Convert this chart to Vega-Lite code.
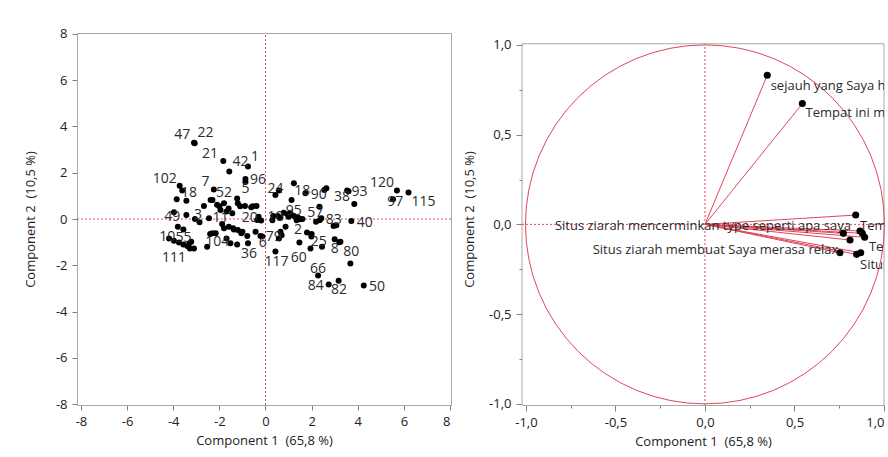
{
  "$schema": "https://vega.github.io/schema/vega-lite/v6.json",
  "background": "white",
  "padding": {"left": 23, "top": 27, "right": 0, "bottom": 0},
  "spacing": 11,
  "config": {
    "font": "Open Sans",
    "view": {"stroke": "#a8a8a8", "strokeWidth": 1},
    "axis": {
      "grid": false,
      "domainColor": "#a8a8a8",
      "tickColor": "#808080",
      "tickSize": 5,
      "labelFontSize": 13,
      "titleFontSize": 13,
      "titleFontWeight": "normal",
      "labelColor": "#222222",
      "titleColor": "#222222",
      "labelPadding": 5,
      "titlePadding": 8
    }
  },
  "datasets": {
    "scores": [
      {"x": -3.10, "y": 3.30}, {"x": -3.07, "y": 3.27}, {"x": -1.83, "y": 2.51}, {"x": -1.57, "y": 2.05},
      {"x": -0.76, "y": 2.27}, {"x": -0.87, "y": 1.73}, {"x": -0.87, "y": 1.60}, {"x": -3.72, "y": 1.44},
      {"x": -3.61, "y": 1.23}, {"x": -3.85, "y": 0.85}, {"x": -3.43, "y": 0.79}, {"x": -2.24, "y": 1.28},
      {"x": -2.67, "y": 0.56}, {"x": -2.38, "y": 0.82}, {"x": -2.30, "y": 0.82}, {"x": -1.80, "y": 0.68},
      {"x": -2.00, "y": 0.55}, {"x": -1.95, "y": 0.39}, {"x": -1.69, "y": 0.32}, {"x": -1.44, "y": 0.25},
      {"x": -1.23, "y": 0.89}, {"x": -1.20, "y": 0.68}, {"x": -0.89, "y": 0.56}, {"x": -0.62, "y": 0.51},
      {"x": -0.39, "y": 0.56}, {"x": -3.97, "y": 0.29}, {"x": -3.43, "y": 0.17}, {"x": -3.06, "y": 0.00},
      {"x": -2.86, "y": -0.14}, {"x": -2.45, "y": 0.03}, {"x": -1.88, "y": -0.22}, {"x": -0.36, "y": -0.04},
      {"x": -0.19, "y": -0.07}, {"x": 0.53, "y": 0.13}, {"x": 0.79, "y": 0.27}, {"x": 1.08, "y": 0.25},
      {"x": 1.23, "y": 0.13}, {"x": 1.41, "y": 0.07}, {"x": 1.52, "y": -0.01}, {"x": 1.13, "y": 0.82},
      {"x": 2.19, "y": -0.12}, {"x": 2.42, "y": 0.03}, {"x": 2.34, "y": 0.53}, {"x": 3.07, "y": -0.27},
      {"x": 3.72, "y": -0.09}, {"x": 0.43, "y": 1.04}, {"x": 0.58, "y": 1.23}, {"x": 1.23, "y": 1.54},
      {"x": 1.73, "y": 1.11}, {"x": 2.64, "y": 1.33}, {"x": 3.54, "y": 1.23}, {"x": 3.85, "y": 0.65},
      {"x": 5.70, "y": 1.23}, {"x": 6.20, "y": 1.15}, {"x": 5.53, "y": 0.85}, {"x": 0.87, "y": -0.33},
      {"x": 0.65, "y": -0.55}, {"x": 0.58, "y": -0.84}, {"x": 1.80, "y": -0.58}, {"x": 1.99, "y": -0.76},
      {"x": -0.14, "y": -0.76}, {"x": 0.43, "y": -1.41}, {"x": 1.47, "y": -1.02}, {"x": 1.95, "y": -1.27},
      {"x": 2.45, "y": -1.20}, {"x": 3.00, "y": -0.88}, {"x": 3.25, "y": -0.98}, {"x": 3.68, "y": -1.92},
      {"x": 2.28, "y": -2.44}, {"x": 2.74, "y": -2.83}, {"x": 3.17, "y": -2.67}, {"x": 4.26, "y": -2.87},
      {"x": -4.18, "y": -0.84}, {"x": -3.97, "y": -0.94}, {"x": -3.75, "y": -1.02}, {"x": -3.56, "y": -1.10},
      {"x": -3.39, "y": -1.17}, {"x": -3.28, "y": -1.27}, {"x": -3.10, "y": -1.27}, {"x": -3.22, "y": -0.98},
      {"x": -3.80, "y": -0.33}, {"x": -3.56, "y": -0.45}, {"x": -2.53, "y": -1.20}, {"x": -2.31, "y": -0.62},
      {"x": -2.16, "y": -0.62}, {"x": -1.69, "y": -0.84}, {"x": -1.52, "y": -1.05}, {"x": -1.23, "y": -1.10},
      {"x": -0.76, "y": -1.05}, {"x": -1.59, "y": -0.33}, {"x": -1.37, "y": -0.45}, {"x": -1.20, "y": -0.48},
      {"x": -1.05, "y": -0.62}, {"x": -0.79, "y": -0.74}, {"x": -0.43, "y": -0.55}, {"x": -0.22, "y": -0.74},
      {"x": 0.33, "y": 0.13}, {"x": 0.65, "y": 0.05}, {"x": 1.00, "y": 0.10}, {"x": 1.35, "y": -0.05},
      {"x": 0.30, "y": -0.05}, {"x": -2.10, "y": 0.62}, {"x": -1.60, "y": 0.45}, {"x": 2.55, "y": 1.25},
      {"x": 1.60, "y": 0.00}, {"x": 2.95, "y": -0.30}, {"x": 0.95, "y": 0.20}, {"x": -1.40, "y": -0.40},
      {"x": -1.00, "y": -0.55}, {"x": 0.70, "y": -0.70}, {"x": -0.55, "y": 0.55}, {"x": -3.30, "y": -1.05},
      {"x": -2.40, "y": -0.65}, {"x": -1.80, "y": -0.40}, {"x": 3.60, "y": 1.20}, {"x": -1.10, "y": 0.55},
      {"x": 2.00, "y": -0.65}, {"x": -0.30, "y": 0.10}, {"x": 3.20, "y": -1.00}, {"x": 2.35, "y": -0.05}
    ],
    "scoreLabels": [
      {"label": "47", "x": -3.61, "y": 3.61}, {"label": "22", "x": -2.60, "y": 3.71},
      {"label": "21", "x": -2.41, "y": 2.80}, {"label": "42", "x": -1.08, "y": 2.48},
      {"label": "1", "x": -0.46, "y": 2.67}, {"label": "96", "x": -0.32, "y": 1.69},
      {"label": "5", "x": -0.87, "y": 1.28}, {"label": "102", "x": -4.37, "y": 1.73},
      {"label": "18", "x": -3.32, "y": 1.11}, {"label": "7", "x": -2.60, "y": 1.59},
      {"label": "52", "x": -1.80, "y": 1.11}, {"label": "49", "x": -4.04, "y": 0.10},
      {"label": "3", "x": -2.93, "y": 0.17}, {"label": "11", "x": -1.95, "y": 0.03},
      {"label": "20", "x": -0.68, "y": 0.03}, {"label": "10", "x": 0.43, "y": 0.07},
      {"label": "95", "x": 1.23, "y": 0.36}, {"label": "57", "x": 2.16, "y": 0.25},
      {"label": "83", "x": 2.96, "y": -0.04}, {"label": "40", "x": 4.30, "y": -0.16},
      {"label": "24", "x": 0.43, "y": 1.28}, {"label": "18", "x": 1.59, "y": 1.23},
      {"label": "90", "x": 2.31, "y": 1.04}, {"label": "38", "x": 3.32, "y": 0.94},
      {"label": "93", "x": 4.08, "y": 1.15}, {"label": "120", "x": 5.05, "y": 1.54},
      {"label": "97", "x": 5.63, "y": 0.75}, {"label": "115", "x": 6.85, "y": 0.75},
      {"label": "2", "x": 1.41, "y": -0.48}, {"label": "6", "x": -0.12, "y": -1.05},
      {"label": "79", "x": 0.36, "y": -0.79}, {"label": "117", "x": 0.48, "y": -1.88},
      {"label": "60", "x": 1.44, "y": -1.70}, {"label": "25", "x": 2.31, "y": -0.98},
      {"label": "8", "x": 3.00, "y": -1.31}, {"label": "80", "x": 3.72, "y": -1.44},
      {"label": "66", "x": 2.28, "y": -2.14}, {"label": "84", "x": 2.18, "y": -2.89},
      {"label": "82", "x": 3.19, "y": -3.07}, {"label": "50", "x": 4.83, "y": -2.93},
      {"label": "10", "x": -4.26, "y": -0.76}, {"label": "55", "x": -3.56, "y": -0.84},
      {"label": "111", "x": -3.97, "y": -1.70}, {"label": "104", "x": -2.09, "y": -0.98},
      {"label": "36", "x": -0.72, "y": -1.51}
    ],
    "loadings": [
      {"var": "sejauh yang Saya", "x": 0.348, "y": 0.831},
      {"var": "Tempat ini", "x": 0.544, "y": 0.673},
      {"var": "V3", "x": 0.842, "y": 0.052},
      {"var": "Situs ziarah mencerminkan type seperti apa saya", "x": 0.773, "y": -0.050},
      {"var": "V5", "x": 0.866, "y": -0.037},
      {"var": "V6", "x": 0.879, "y": -0.050},
      {"var": "V7", "x": 0.892, "y": -0.072},
      {"var": "V8", "x": 0.810, "y": -0.087},
      {"var": "Situs ziarah membuat Saya merasa relax", "x": 0.754, "y": -0.158},
      {"var": "V10", "x": 0.847, "y": -0.167},
      {"var": "V11", "x": 0.870, "y": -0.158}
    ],
    "loadLabelsLeft": [
      {"text": "sejauh yang Saya harapkan", "x": 0.367, "y": 0.771},
      {"text": "Tempat ini menarik", "x": 0.562, "y": 0.619},
      {"text": "Tempat ziarah", "x": 0.866, "y": -0.009},
      {"text": "Tempat ziarah", "x": 0.916, "y": -0.125},
      {"text": "Situs ziarah", "x": 0.866, "y": -0.227}
    ],
    "loadLabelsRight": [
      {"text": "Situs ziarah mencerminkan type seperti apa saya", "x": 0.815, "y": -0.007},
      {"text": "Situs ziarah membuat Saya merasa relax", "x": 0.745, "y": -0.143}
    ],
    "frameV": [{"x": -1.022}, {"x": 1.0}]
  },
  "hconcat": [
    {
      "width": 374,
      "height": 372,
      "layer": [
        {
          "data": {"values": [{}]},
          "mark": {"type": "rule", "color": "#e8485a", "strokeDash": [2, 2], "strokeWidth": 1},
          "encoding": {"x": {"datum": 0, "type": "quantitative"}, "y": {"datum": -8.04}, "y2": {"datum": 8.04}}
        },
        {
          "data": {"values": [{}]},
          "mark": {"type": "rule", "color": "#e8485a", "strokeDash": [2, 2], "strokeWidth": 1},
          "encoding": {"y": {"datum": 0, "type": "quantitative"}, "x": {"datum": -8.173}, "x2": {"datum": 8.043}}
        },
        {
          "data": {"name": "scores"},
          "mark": {"type": "point", "filled": true, "color": "#000000", "size": 36, "opacity": 1},
          "encoding": {
            "x": {"field": "x", "type": "quantitative"},
            "y": {"field": "y", "type": "quantitative"}
          }
        },
        {
          "data": {"name": "scoreLabels"},
          "mark": {"type": "text", "fontSize": 14, "color": "#2b2b2b", "align": "center", "baseline": "middle"},
          "encoding": {
            "x": {"field": "x", "type": "quantitative"},
            "y": {"field": "y", "type": "quantitative"},
            "text": {"field": "label"}
          }
        }
      ],
      "encoding": {
        "x": {
          "type": "quantitative",
          "scale": {"domain": [-8.173, 8.043], "nice": false, "zero": false},
          "axis": {
            "values": [-8, -6, -4, -2, 0, 2, 4, 6, 8],
            "title": "Component 1\u00a0 (65,8 %)",
            "titlePadding": 6,
            "labelExpr": "(datum.value < 0 ? '-' : '') + abs(datum.value)"
          }
        },
        "y": {
          "type": "quantitative",
          "scale": {"domain": [-8.04, 8.04], "nice": false, "zero": false},
          "axis": {
            "values": [-8, -6, -4, -2, 0, 2, 4, 6, 8],
            "title": "Component 2\u00a0 (10,5 %)",
            "titlePadding": 18,
            "labelExpr": "(datum.value < 0 ? '-' : '') + abs(datum.value)"
          }
        }
      }
    },
    {
      "width": 362,
      "height": 372,
      "view": {"stroke": null},
      "layer": [
        {
          "data": {"name": "frameV"},
          "mark": {"type": "rule", "color": "#a8a8a8", "strokeWidth": 1},
          "encoding": {"x": {"field": "x", "type": "quantitative"}, "y": {"datum": -1.006}, "y2": {"datum": 1.006}}
        },
        {
          "data": {"values": [{}]},
          "mark": {"type": "rule", "color": "#a8a8a8", "strokeWidth": 1},
          "encoding": {"y": {"datum": 1.006, "type": "quantitative"}}
        },
        {
          "data": {"values": [{}]},
          "mark": {"type": "point", "shape": "circle", "filled": false, "color": "#e0465a", "strokeWidth": 1, "size": 128881, "opacity": 1},
          "encoding": {"x": {"datum": 0, "type": "quantitative"}, "y": {"datum": 0, "type": "quantitative"}}
        },
        {
          "data": {"values": [{}]},
          "mark": {"type": "rule", "color": "#e8485a", "strokeDash": [2, 2], "strokeWidth": 1},
          "encoding": {"x": {"datum": 0, "type": "quantitative"}, "y": {"datum": -1.006}, "y2": {"datum": 1.006}}
        },
        {
          "data": {"values": [{}]},
          "mark": {"type": "rule", "color": "#e8485a", "strokeDash": [2, 2], "strokeWidth": 1},
          "encoding": {"y": {"datum": 0, "type": "quantitative"}}
        },
        {
          "data": {"name": "loadings"},
          "mark": {"type": "rule", "color": "#e0465a", "strokeWidth": 1},
          "encoding": {
            "x": {"field": "x", "type": "quantitative"},
            "y": {"field": "y", "type": "quantitative"},
            "x2": {"datum": 0},
            "y2": {"datum": 0}
          }
        },
        {
          "data": {"name": "loadings"},
          "mark": {"type": "point", "filled": true, "color": "#000000", "size": 50, "opacity": 1},
          "encoding": {
            "x": {"field": "x", "type": "quantitative"},
            "y": {"field": "y", "type": "quantitative"}
          }
        },
        {
          "data": {"name": "loadLabelsLeft"},
          "mark": {"type": "text", "fontSize": 13, "color": "#2b2b2b", "align": "left", "baseline": "middle", "clip": true},
          "encoding": {
            "x": {"field": "x", "type": "quantitative"},
            "y": {"field": "y", "type": "quantitative"},
            "text": {"field": "text"}
          }
        },
        {
          "data": {"name": "loadLabelsRight"},
          "mark": {"type": "text", "fontSize": 13, "color": "#2b2b2b", "align": "right", "baseline": "middle", "clip": true},
          "encoding": {
            "x": {"field": "x", "type": "quantitative"},
            "y": {"field": "y", "type": "quantitative"},
            "text": {"field": "text"}
          }
        }
      ],
      "encoding": {
        "x": {
          "type": "quantitative",
          "scale": {"domain": [-1.022, 1.0], "nice": false, "zero": false},
          "axis": {
            "values": [-1, -0.75, -0.5, -0.25, 0, 0.25, 0.5, 0.75, 1],
            "title": "Component 1\u00a0 (65,8 %)",
            "titlePadding": 6,
            "tickSize": 6,
            "tickDash": {"condition": {"test": "abs(datum.value * 2 - round(datum.value * 2)) > 0.001", "value": [3, 10]}, "value": []},
            "labelExpr": "abs(datum.value * 2 - round(datum.value * 2)) < 0.001 ? (datum.value < 0 ? '-' : '') + replace(format(abs(datum.value), '.1f'), '.', ',') : ''"
          }
        },
        "y": {
          "type": "quantitative",
          "scale": {"domain": [-1.006, 1.066], "nice": false, "zero": false},
          "axis": {
            "values": [-1, -0.75, -0.5, -0.25, 0, 0.25, 0.5, 0.75, 1],
            "domain": false,
            "title": "Component 2\u00a0 (10,5 %)",
            "titlePadding": 12,
            "tickSize": 6,
            "tickDash": {"condition": {"test": "abs(datum.value * 2 - round(datum.value * 2)) > 0.001", "value": [3, 10]}, "value": []},
            "labelExpr": "abs(datum.value * 2 - round(datum.value * 2)) < 0.001 ? (datum.value < 0 ? '-' : '') + replace(format(abs(datum.value), '.1f'), '.', ',') : ''"
          }
        }
      }
    }
  ]
}
